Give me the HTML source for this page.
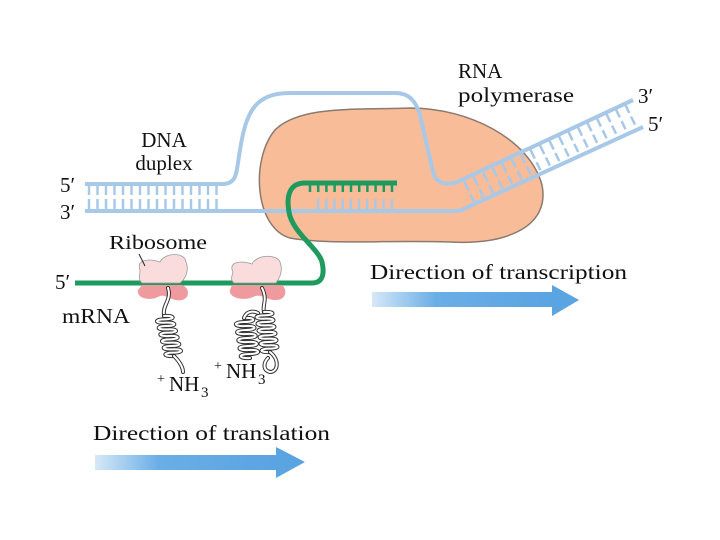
<!DOCTYPE html>
<html><head><meta charset="utf-8"><style>
html,body{margin:0;padding:0;background:#fff;}
svg{display:block;}
text{font-family:"Liberation Serif",serif;fill:#111;}
</style></head><body>
<svg id="s" width="720" height="540" viewBox="0 0 720 540" xmlns="http://www.w3.org/2000/svg">
<defs>
<linearGradient id="g1" x1="0" x2="1" y1="0" y2="0">
<stop offset="0" stop-color="#d6e8f8"/><stop offset="0.35" stop-color="#6aaee6"/><stop offset="1" stop-color="#5aa4e2"/>
</linearGradient>
</defs>
<path d="M275,130 C300,105 360,110 410,108 C470,108 530,140 542,185 C550,225 510,245 450,242 C380,240 330,245 290,238 C255,228 250,160 275,130 Z" fill="#f9bc98" stroke="#8a7a70" stroke-width="1.5"/>
<g id="rungs" stroke="#a8c8e8" stroke-width="2.5"></g>
<path d="M85,184 H222 C238,184 236,172 240,150 C246,112 255,93 290,93 H395 C410,93 416,102 420,115 L433,172 C436,182 442,185 455,183 L633,100" fill="none" stroke="#a8c8e8" stroke-width="4"/>
<path d="M85,211 H455 C462,211 463,209 470,206 L643,127" fill="none" stroke="#a8c8e8" stroke-width="4"/>
<g id="grungs" stroke="#1f9a5e" stroke-width="2.5"></g>
<path d="M75,283 H312 C322,283 325,275 322,262 C318,248 292,232 289,212 C286,195 290,183 305,183 H397" fill="none" stroke="#1f9a5e" stroke-width="5"/>
<path d="M140,270 C136,260 148,258 160,262 C165,252 185,252 186,262 C190,272 184,280 180,283 H142 C138,280 140,275 140,270 Z" fill="#fbdcdc" stroke="#999" stroke-width="0.8"/>
<path d="M142,285 H182 C190,288 190,298 182,300 C172,302 166,294 160,296 C150,302 136,298 138,290 Z" fill="#ee9a9f"/>
<path d="M233,272 C228,262 240,260 252,264 C257,254 277,254 280,262 C284,272 278,280 276,283 H234 C230,280 232,276 233,272 Z" fill="#fbdcdc" stroke="#999" stroke-width="0.8"/>
<path d="M232,285 H282 C288,290 286,300 276,300 C266,300 262,294 255,296 C245,302 228,298 230,290 Z" fill="#ee9a9f"/>
<path d="M139,254 L145,266" stroke="#222" stroke-width="1"/>
<g id="hel" fill="none" stroke-linecap="round"></g>
<rect x="372" y="292" width="182" height="15" fill="url(#g1)"/>
<path d="M552,285 L579,300 L552,316 Z" fill="#5aa4e2"/>
<rect x="95" y="455" width="182" height="15" fill="url(#g1)"/>
<path d="M276,447 L305,462 L276,478 Z" fill="#5aa4e2"/>
<text x="164" y="147" font-size="21" text-anchor="middle">DNA</text>
<text x="164" y="170" font-size="21" text-anchor="middle">duplex</text>
<text x="60" y="192" font-size="21">5′</text>
<text x="60" y="219" font-size="21">3′</text>
<text x="458" y="78" font-size="21">RNA</text>
<text x="458" y="102" font-size="21" textLength="116" lengthAdjust="spacingAndGlyphs">polymerase</text>
<text x="638" y="103" font-size="21">3′</text>
<text x="648" y="131" font-size="21">5′</text>
<text x="109" y="249" font-size="20" textLength="98" lengthAdjust="spacingAndGlyphs">Ribosome</text>
<text x="55" y="289" font-size="21">5′</text>
<text x="62" y="323" font-size="21" textLength="68" lengthAdjust="spacingAndGlyphs">mRNA</text>
<text x="370" y="279" font-size="21" textLength="257" lengthAdjust="spacingAndGlyphs">Direction of transcription</text>
<text x="93" y="440" font-size="21" textLength="237" lengthAdjust="spacingAndGlyphs">Direction of translation</text>
<text x="157" y="383" font-size="14">+</text>
<text x="169" y="391" font-size="21">NH</text>
<text x="201" y="397" font-size="15">3</text>
<text x="214" y="370" font-size="14">+</text>
<text x="226" y="378" font-size="21">NH</text>
<text x="258" y="384" font-size="15">3</text>
</svg>
<script>
var NS="http://www.w3.org/2000/svg";
function ln(g,x1,y1,x2,y2){var l=document.createElementNS(NS,"line");l.setAttribute("x1",x1);l.setAttribute("y1",y1);l.setAttribute("x2",x2);l.setAttribute("y2",y2);g.appendChild(l);}
var r=document.getElementById("rungs");
for(var x=89;x<=220;x+=8.5){ln(r,x,186,x,195);ln(r,x,199,x,209);}
for(var x=318;x<=392;x+=8.2){ln(r,x,199,x,209);}
var dx=176,dy=-85,L=Math.hypot(dx,dy),ux=dx/L,uy=dy/L,px=-uy,py=ux;
for(var t=8;t<L-4;t+=10.5){
 var ax=457+ux*t,ay=185+uy*t;
 ln(r,ax,ay,ax+px*10,ay+py*10);
 ln(r,ax+px*14,ay+py*14,ax+px*23,ay+py*23);
}
var g=document.getElementById("grungs");
for(var x=310;x<=397;x+=8.2){ln(g,x,183,x,192);}
var h=document.getElementById("hel");
function drw(d){[["#333",4],["#fff",2]].forEach(function(s){var p=document.createElementNS(NS,"path");p.setAttribute("d",d);p.setAttribute("stroke",s[0]);p.setAttribute("stroke-width",s[1]);h.appendChild(p);});}
function helix(x0,y0,x1,y1,w,n){
 var d="M"+x0+","+y0;var sy=(y1-y0)/n,sx=(x1-x0)/n;
 for(var i=0;i<n;i++){var y=y0+i*sy,x=x0+i*sx;
  d+=" C"+(x+w)+","+(y-sy*0.1)+" "+(x+w+sx*0.5)+","+(y+sy*0.5)+" "+(x+sx*0.5)+","+(y+sy*0.5);
  d+=" C"+(x-w+sx*0.5)+","+(y+sy*0.5)+" "+(x-w+sx)+","+(y+sy*1.1)+" "+(x+sx)+","+(y+sy);}
 drw(d);
}
drw("M168,288 C172,300 162,305 164,316");
helix(164,316,174,356,11,6);
drw("M174,356 C180,362 183,368 183,372");
drw("M262,288 C268,300 262,305 264,312");
helix(264,312,270,352,11,6);
drw("M270,352 C280,360 278,372 270,372 C262,370 264,362 268,358");
helix(244,318,250,358,12,5);
drw("M244,318 C246,312 252,310 258,313");
</script>
</body></html>
